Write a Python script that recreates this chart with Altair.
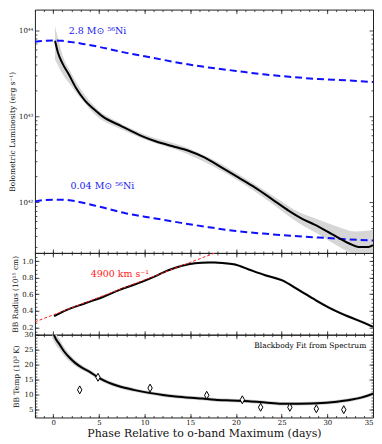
import altair as alt
import pandas as pd
import numpy as np

FONT = "DejaVu Serif, Liberation Serif, serif"

# ---------------- data ----------------
# Top panel: bolometric luminosity, stored as log10(erg/s)
lum_day = [0.2, 0.5, 1.0, 1.7, 2.5, 3.5, 4.5, 5.4, 7.5, 9.7, 11.2, 13, 14.8, 16.6,
           18.5, 20.3, 22.1, 23.9, 25.8, 27.2, 28.6, 30.5, 32.4, 33.4, 34.5, 35]
lum_log = [43.88, 43.75, 43.62, 43.49, 43.33, 43.18, 43.08, 43.0, 42.885, 42.77, 42.71,
           42.655, 42.60, 42.52, 42.40, 42.286, 42.17, 42.04, 41.90, 41.81, 41.74,
           41.63, 41.52, 41.48, 41.48, 41.50]
lband_day = [0.2, 0.5, 1, 2, 3, 5, 7, 10, 14, 18, 21, 24, 27, 29, 31, 33, 35]
lband_hi = [44.05, 43.92, 43.72, 43.5, 43.32, 43.07, 42.94, 42.79, 42.66, 42.47, 42.28,
            42.08, 41.88, 41.80, 41.72, 41.66, 41.68]
lband_lo = [43.66, 43.6, 43.5, 43.35, 43.21, 42.98, 42.87, 42.73, 42.59, 42.39, 42.20,
            41.98, 41.75, 41.63, 41.50, 41.40, 41.38]

ni_day = [-2, -1, 0, 1, 2, 3, 5, 8, 11, 14, 17, 20, 23, 26, 29, 32, 35]
ni_hi_log = [43.87, 43.88, 43.885, 43.88, 43.865, 43.85, 43.81, 43.74, 43.68, 43.62,
             43.57, 43.53, 43.49, 43.46, 43.435, 43.42, 43.40]
ni_lo_log = [42.01, 42.025, 42.03, 42.03, 42.02, 42.0, 41.95, 41.87, 41.815, 41.76,
             41.71, 41.665, 41.635, 41.61, 41.59, 41.57, 41.555]
ni_text = ["2.8 M\u2299 \u2075\u2076Ni", "0.04 M\u2299 \u2075\u2076Ni"]
ni_text_day = [1.7, 1.9]
ni_text_log = [44.0, 42.19]

# Middle panel: blackbody radius (1e15 cm)
rad_day = [0.1, 1.5, 3.5, 5.5, 7.2, 9.7, 11.2, 12.6, 14.1, 15.5, 17.0, 17.7, 18.8,
           19.9, 21.4, 23.2, 25.0, 26.9, 28.7, 30.5, 32.3, 34.1, 35.0]
rad_val = [0.335, 0.41, 0.49, 0.57, 0.65, 0.75, 0.82, 0.89, 0.945, 0.975, 0.985, 0.985,
           0.975, 0.96, 0.90, 0.83, 0.77, 0.65, 0.53, 0.42, 0.33, 0.25, 0.205]
rad_err = [0.01, 0.01, 0.01, 0.01, 0.01, 0.01, 0.01, 0.01, 0.012, 0.012, 0.012, 0.012,
           0.012, 0.012, 0.014, 0.015, 0.016, 0.018, 0.018, 0.018, 0.018, 0.02, 0.02]
vel_day = [-2, 17.7]
vel_rad = [0.265, 1.10]
vel_text = ["4900 km s\u207b\u00b9"]
vel_text_day = [4.1]
vel_text_rad = [0.85]

# Bottom panel: blackbody temperature (1e3 K)
temp_day = [0.0, 0.3, 0.6, 1.2, 1.8, 2.4, 3.1, 3.9, 5.0, 6.0, 7.2, 8.8, 10.5, 12, 13.4,
            16.3, 17.7, 19.5, 21.4, 23.2, 25.0, 26.9, 28.2, 29.4, 30.5, 31.6, 32.7,
            33.8, 35.0]
temp_val = [30.6, 28.5, 27.2, 24.4, 22.3, 20.6, 19.1, 17.8, 15.6, 14.1, 12.8, 11.6,
            10.6, 9.9, 9.4, 8.7, 8.3, 8.05, 7.8, 7.4, 7.0, 7.0, 7.05, 7.2, 7.5, 7.9,
            8.4, 9.1, 10.3]
temp_err = [2.2, 2.0, 1.8, 1.5, 1.2, 1.0, 0.8, 0.6, 0.5, 0.4, 0.35, 0.3, 0.3, 0.3, 0.3,
            0.3, 0.3, 0.3, 0.3, 0.3, 0.3, 0.3, 0.3, 0.3, 0.3, 0.3, 0.35, 0.4, 0.45]
spec_day = [2.9, 4.9, 10.6, 16.8, 20.7, 22.7, 25.9, 28.8, 31.8]
spec_temp = [11.6, 15.8, 12.2, 9.8, 8.3, 5.8, 5.8, 5.3, 5.0]
spec_label = "Blackbody Fit from Spectrum"

# ---------------- tables ----------------
lum_df = pd.DataFrame({"day": lum_day, "L": np.power(10.0, lum_log)})
lband_df = pd.DataFrame({"day": lband_day, "lo": np.power(10.0, lband_lo),
                         "hi": np.power(10.0, lband_hi)})
ni_df = pd.DataFrame({"day": ni_day + ni_day,
                      "L": np.power(10.0, ni_hi_log + ni_lo_log),
                      "model": ["hi"] * len(ni_day) + ["lo"] * len(ni_day)})
ni_txt_df = pd.DataFrame({"day": ni_text_day, "L": np.power(10.0, ni_text_log),
                          "t": ni_text})
rad_df = pd.DataFrame({"day": rad_day, "r": rad_val,
                       "lo": np.array(rad_val) - np.array(rad_err),
                       "hi": np.array(rad_val) + np.array(rad_err)})
vel_df = pd.DataFrame({"day": vel_day, "r": vel_rad})
vel_txt_df = pd.DataFrame({"day": vel_text_day, "r": vel_text_rad, "t": vel_text})
temp_df = pd.DataFrame({"day": temp_day, "T": temp_val,
                        "lo": np.array(temp_val) - np.array(temp_err),
                        "hi": np.array(temp_val) + np.array(temp_err)})
spec_df = pd.DataFrame({"day": spec_day, "T": spec_temp, "lbl": [spec_label] * len(spec_day)})

# ---------------- scales & axes ----------------
W = 339
xs = alt.Scale(domain=[-2, 35], nice=False, zero=False)
ys_lum = alt.Scale(type="log", domain=[10 ** 41.41, 10 ** 44.244], nice=False)
ys_rad = alt.Scale(domain=[0.11, 1.10], nice=False, zero=False)
ys_tmp = alt.Scale(domain=[2.4, 30], nice=False, zero=False)

X_MAJ = list(range(0, 36, 5))
X_MIN = list(range(-2, 36))


def ax(orient, values, major=True, labels=False, title=None, **kw):
    size = 4 if major else 2
    args = dict(orient=orient, values=values, tickSize=size, offset=-size,
                labels=labels, domain=False, grid=False, ticks=True,
                tickColor="#222", tickWidth=0.8, minExtent=0)
    args["title"] = title
    args.update(kw)
    return alt.Axis(**args)


def x_axes(bottom_labels):
    if bottom_labels:
        bmaj = ax("bottom", X_MAJ, True, True,
                  "Phase Relative to o-band Maximum (days)",
                  labelPadding=1, titlePadding=2, titleFontSize=11,
                  titleFontWeight="normal", format="d")
    else:
        bmaj = ax("bottom", X_MAJ, True, False)
    return [bmaj, ax("top", X_MAJ, True), ax("bottom", X_MIN, False), ax("top", X_MIN, False)]


def y_axes(maj, mnr, title, extent, **kw):
    left = ax("left", maj, True, True, title, labelPadding=2, minExtent=extent,
              maxExtent=extent, titlePadding=2, titleFontSize=7.5,
              titleFontWeight="normal", **kw)
    return [left, ax("right", maj, True), ax("left", mnr, False), ax("right", mnr, False)]


LUM_MAJ = [1e42, 1e43, 1e44]
LUM_MIN = [m * 10.0 ** e for e in (41, 42, 43) for m in range(2, 10)
           if 10 ** 41.41 < m * 10.0 ** e < 10 ** 44.244]
RAD_MAJ = [0.2, 0.4, 0.6, 0.8, 1.0]
RAD_MIN = [round(0.15 + 0.05 * i, 2) for i in range(19)]
TMP_MAJ = [5, 10, 15, 20, 25, 30]
TMP_MIN = list(range(3, 31))

# ---------------- top panel ----------------
lum_xa = x_axes(False)
lum_ya = y_axes(LUM_MAJ, LUM_MIN, "Bolometric Luminosity (erg s\u207b\u00b9)", 20,
                labelExpr="datum.value > 5e43 ? '10\u2074\u2074' : datum.value > 5e42 ? '10\u2074\u00b3' : '10\u2074\u00b2'")

band_l = alt.Chart(lband_df).mark_area(color="#d6d6d6", clip=True, interpolate="monotone").encode(
    x=alt.X("day:Q", scale=xs, axis=lum_xa[0]),
    y=alt.Y("lo:Q", scale=ys_lum, axis=lum_ya[0]),
    y2="hi:Q")
ni_hi_l = alt.Chart(ni_df).transform_filter("datum.model == 'hi'").mark_line(
    color="#1010ff", strokeWidth=2, strokeDash=[7, 4], clip=True, interpolate="monotone").encode(
    x=alt.X("day:Q", scale=xs, axis=lum_xa[1]),
    y=alt.Y("L:Q", scale=ys_lum, axis=lum_ya[1]))
ni_lo_l = alt.Chart(ni_df).transform_filter("datum.model == 'lo'").mark_line(
    color="#1010ff", strokeWidth=2, strokeDash=[7, 4], clip=True, interpolate="monotone").encode(
    x=alt.X("day:Q", scale=xs, axis=lum_xa[2]),
    y=alt.Y("L:Q", scale=ys_lum, axis=lum_ya[2]))
lum_l = alt.Chart(lum_df).mark_line(color="black", strokeWidth=2, clip=True,
                                    interpolate="monotone").encode(
    x=alt.X("day:Q", scale=xs, axis=lum_xa[3]),
    y=alt.Y("L:Q", scale=ys_lum, axis=lum_ya[3]))
ni_txt_l = alt.Chart(ni_txt_df).mark_text(
    color="#2020f0", font=FONT, fontSize=9.5, align="left", baseline="middle").encode(
    x=alt.X("day:Q", scale=xs, axis=None),
    y=alt.Y("L:Q", scale=ys_lum, axis=None),
    text="t:N")

top = alt.layer(band_l, ni_hi_l, ni_lo_l, lum_l, ni_txt_l).resolve_axis(
    x="independent", y="independent").properties(width=W, height=244)

# ---------------- middle panel ----------------
rad_xa = x_axes(False)
rad_ya = y_axes(RAD_MAJ, RAD_MIN, "BB Radius (10\u00b9\u2075 cm)", 17, format=".1f")

rband = alt.Chart(rad_df).mark_area(color="#d6d6d6", clip=True, interpolate="monotone").encode(
    x=alt.X("day:Q", scale=xs, axis=rad_xa[0]),
    y=alt.Y("lo:Q", scale=ys_rad, axis=rad_ya[0]),
    y2="hi:Q")
rline = alt.Chart(rad_df).mark_line(color="black", strokeWidth=2, clip=True,
                                    interpolate="monotone").encode(
    x=alt.X("day:Q", scale=xs, axis=rad_xa[1]),
    y=alt.Y("r:Q", scale=ys_rad, axis=rad_ya[1]))
vline = alt.Chart(vel_df).mark_line(color="#ff2020", strokeWidth=1, strokeDash=[3, 2],
                                    clip=True).encode(
    x=alt.X("day:Q", scale=xs, axis=rad_xa[2]),
    y=alt.Y("r:Q", scale=ys_rad, axis=rad_ya[2]))
vtxt = alt.Chart(vel_txt_df).mark_text(color="#ff2020", font=FONT, fontSize=9.5,
                                       align="left", baseline="middle").encode(
    x=alt.X("day:Q", scale=xs, axis=rad_xa[3]),
    y=alt.Y("r:Q", scale=ys_rad, axis=rad_ya[3]),
    text="t:N")

mid = alt.layer(rband, rline, vline, vtxt).resolve_axis(
    x="independent", y="independent").properties(width=W, height=82)

# ---------------- bottom panel ----------------
tmp_xa = x_axes(True)
tmp_ya = y_axes(TMP_MAJ, TMP_MIN, "BB Temp (10\u00b3 K)", 16, format="d")

tband = alt.Chart(temp_df).mark_area(color="#d6d6d6", clip=True, interpolate="monotone").encode(
    x=alt.X("day:Q", scale=xs, axis=tmp_xa[0]),
    y=alt.Y("lo:Q", scale=ys_tmp, axis=tmp_ya[0]),
    y2="hi:Q")
thalo = alt.Chart(temp_df).mark_line(color="#cccccc", strokeWidth=3.5, clip=True,
                                     interpolate="monotone").encode(
    x=alt.X("day:Q", scale=xs, axis=tmp_xa[1]),
    y=alt.Y("T:Q", scale=ys_tmp, axis=tmp_ya[1]))
tline = alt.Chart(temp_df).mark_line(color="black", strokeWidth=2, clip=True,
                                     interpolate="monotone").encode(
    x=alt.X("day:Q", scale=xs, axis=tmp_xa[2]),
    y=alt.Y("T:Q", scale=ys_tmp, axis=tmp_ya[2]))
DIAMOND = "M0,-1L0.55,0L0,1L-0.55,0Z"
tpts = alt.Chart(spec_df).mark_point(filled=True, fill="white", stroke="black",
                                     strokeWidth=1, size=64, opacity=1).encode(
    x=alt.X("day:Q", scale=xs, axis=tmp_xa[3]),
    y=alt.Y("T:Q", scale=ys_tmp, axis=tmp_ya[3]),
    shape=alt.Shape("lbl:N", scale=alt.Scale(range=[DIAMOND]),
                    legend=alt.Legend(title=None, orient="top-right", offset=6,
                                      labelFont=FONT, labelFontSize=7.5,
                                      symbolType=DIAMOND,
                                      symbolFillColor="white", symbolStrokeColor="black",
                                      symbolStrokeWidth=1.2, symbolSize=64,
                                      labelOffset=9, padding=0)))

bot = alt.layer(tband, thalo, tline, tpts).resolve_axis(
    x="independent", y="independent").properties(width=W, height=83)

chart = alt.vconcat(top, mid, bot, spacing=0, bounds="flush").resolve_scale(
    shape="independent").resolve_legend(shape="independent").properties(
    padding=0).configure_view(stroke="#222", strokeWidth=1).configure_axis(
    labelFont=FONT, titleFont=FONT, labelFontSize=7, labelColor="#111",
    titleColor="#111").configure_concat(spacing=0)

chart.save("out.html", embed_options={"renderer": "svg", "actions": False})
